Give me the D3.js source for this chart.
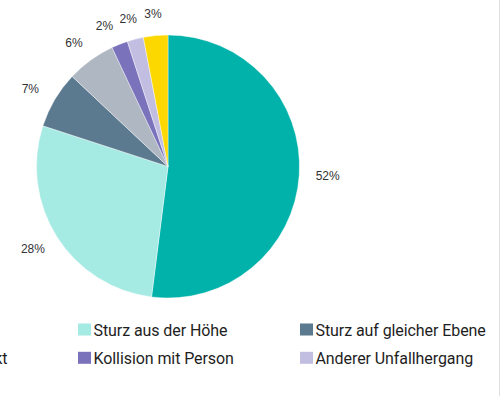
<!DOCTYPE html>
<html>
<head>
<meta charset="utf-8">
<script src="https://cdn.jsdelivr.net/npm/d3@7"></script>
<style>
  html, body { margin: 0; padding: 0; background: #fff; }
  svg { display: block; }
</style>
</head>
<body>
<svg id="chart" width="501" height="396"></svg>
<script>
// Unfallhergang – Anteile in Prozent
const categories = [
  "Selbstunfall",
  "Sturz aus der Höhe",
  "Sturz auf gleicher Ebene",
  "Kollision mit Objekt",
  "Kollision mit Person",
  "Anderer Unfallhergang",
  "Unbekannt"
];
const values = [52, 28, 7, 6, 2, 2, 3];
const colors = ["#00b2a9", "#a6eae4", "#5b7a8f", "#afb7c3", "#7a73bb", "#c1bee2", "#fdd800"];

const svg = d3.select("#chart");
const W = 501, H = 396;
const cx = 168, cy = 166.5, r = 131.5;

const data = categories.map((c, i) => ({ name: c, value: values[i], color: colors[i] }));

const pie = d3.pie().value(d => d.value).sort(null);
const arcs = pie(data);
const arc = d3.arc().innerRadius(0).outerRadius(r);

const g = svg.append("g").attr("transform", `translate(${cx},${cy})`);

g.selectAll("path.slice")
  .data(arcs)
  .enter().append("path")
  .attr("class", "slice")
  .attr("d", arc)
  .attr("fill", d => d.data.color)
  .attr("stroke", "#fff")
  .attr("stroke-width", 0.4);

// Label angles: mid-angle, nudged so neighbouring small slices don't collide
const minSep = 9 * Math.PI / 180;
const labelAngle = arcs.map(a => (a.startAngle + a.endAngle) / 2);
for (let i = labelAngle.length - 2; i >= 0; i--) {
  if (labelAngle[i + 1] - labelAngle[i] < minSep) {
    labelAngle[i] = labelAngle[i + 1] - minSep;
  }
}
const rx = 160, ry = 153;

g.selectAll("text.pct")
  .data(arcs)
  .enter().append("text")
  .attr("class", "pct")
  .attr("x", (d, i) => rx * Math.sin(labelAngle[i]))
  .attr("y", (d, i) => -ry * Math.cos(labelAngle[i]))
  .attr("dy", "0.35em")
  .attr("text-anchor", "middle")
  .attr("font-family", "Liberation Sans, Arial, sans-serif")
  .attr("font-size", 12)
  .attr("fill", "#333")
  .text(d => d3.format(".0f")(d.data.value) + "%");

// Legend: three columns, rows left to right
const cols = 3, colW = 222, rowH = 28.3;
const legX0 = 78 - colW, legY0 = 323.5;

const leg = svg.append("g");
const items = leg.selectAll("g.item")
  .data(data)
  .enter().append("g")
  .attr("class", "item")
  .attr("transform", (d, i) => `translate(${legX0 + (i % cols) * colW},${legY0 + Math.floor(i / cols) * rowH})`);

items.append("rect")
  .attr("width", 13)
  .attr("height", 12)
  .attr("fill", d => d.color);

items.append("text")
  .attr("x", 15.5)
  .attr("y", 12)
  .attr("font-family", "Roboto, sans-serif")
  .attr("font-size", 16)
  .attr("letter-spacing", "-0.08px")
  .attr("fill", "#1e1e1e")
  .text(d => d.name);

// Thin frame edge on the right
svg.append("line")
  .attr("x1", W - 1.5).attr("x2", W - 1.5)
  .attr("y1", 0).attr("y2", H)
  .attr("stroke", "#dedede")
  .attr("stroke-width", 1);
</script>
</body>
</html>
